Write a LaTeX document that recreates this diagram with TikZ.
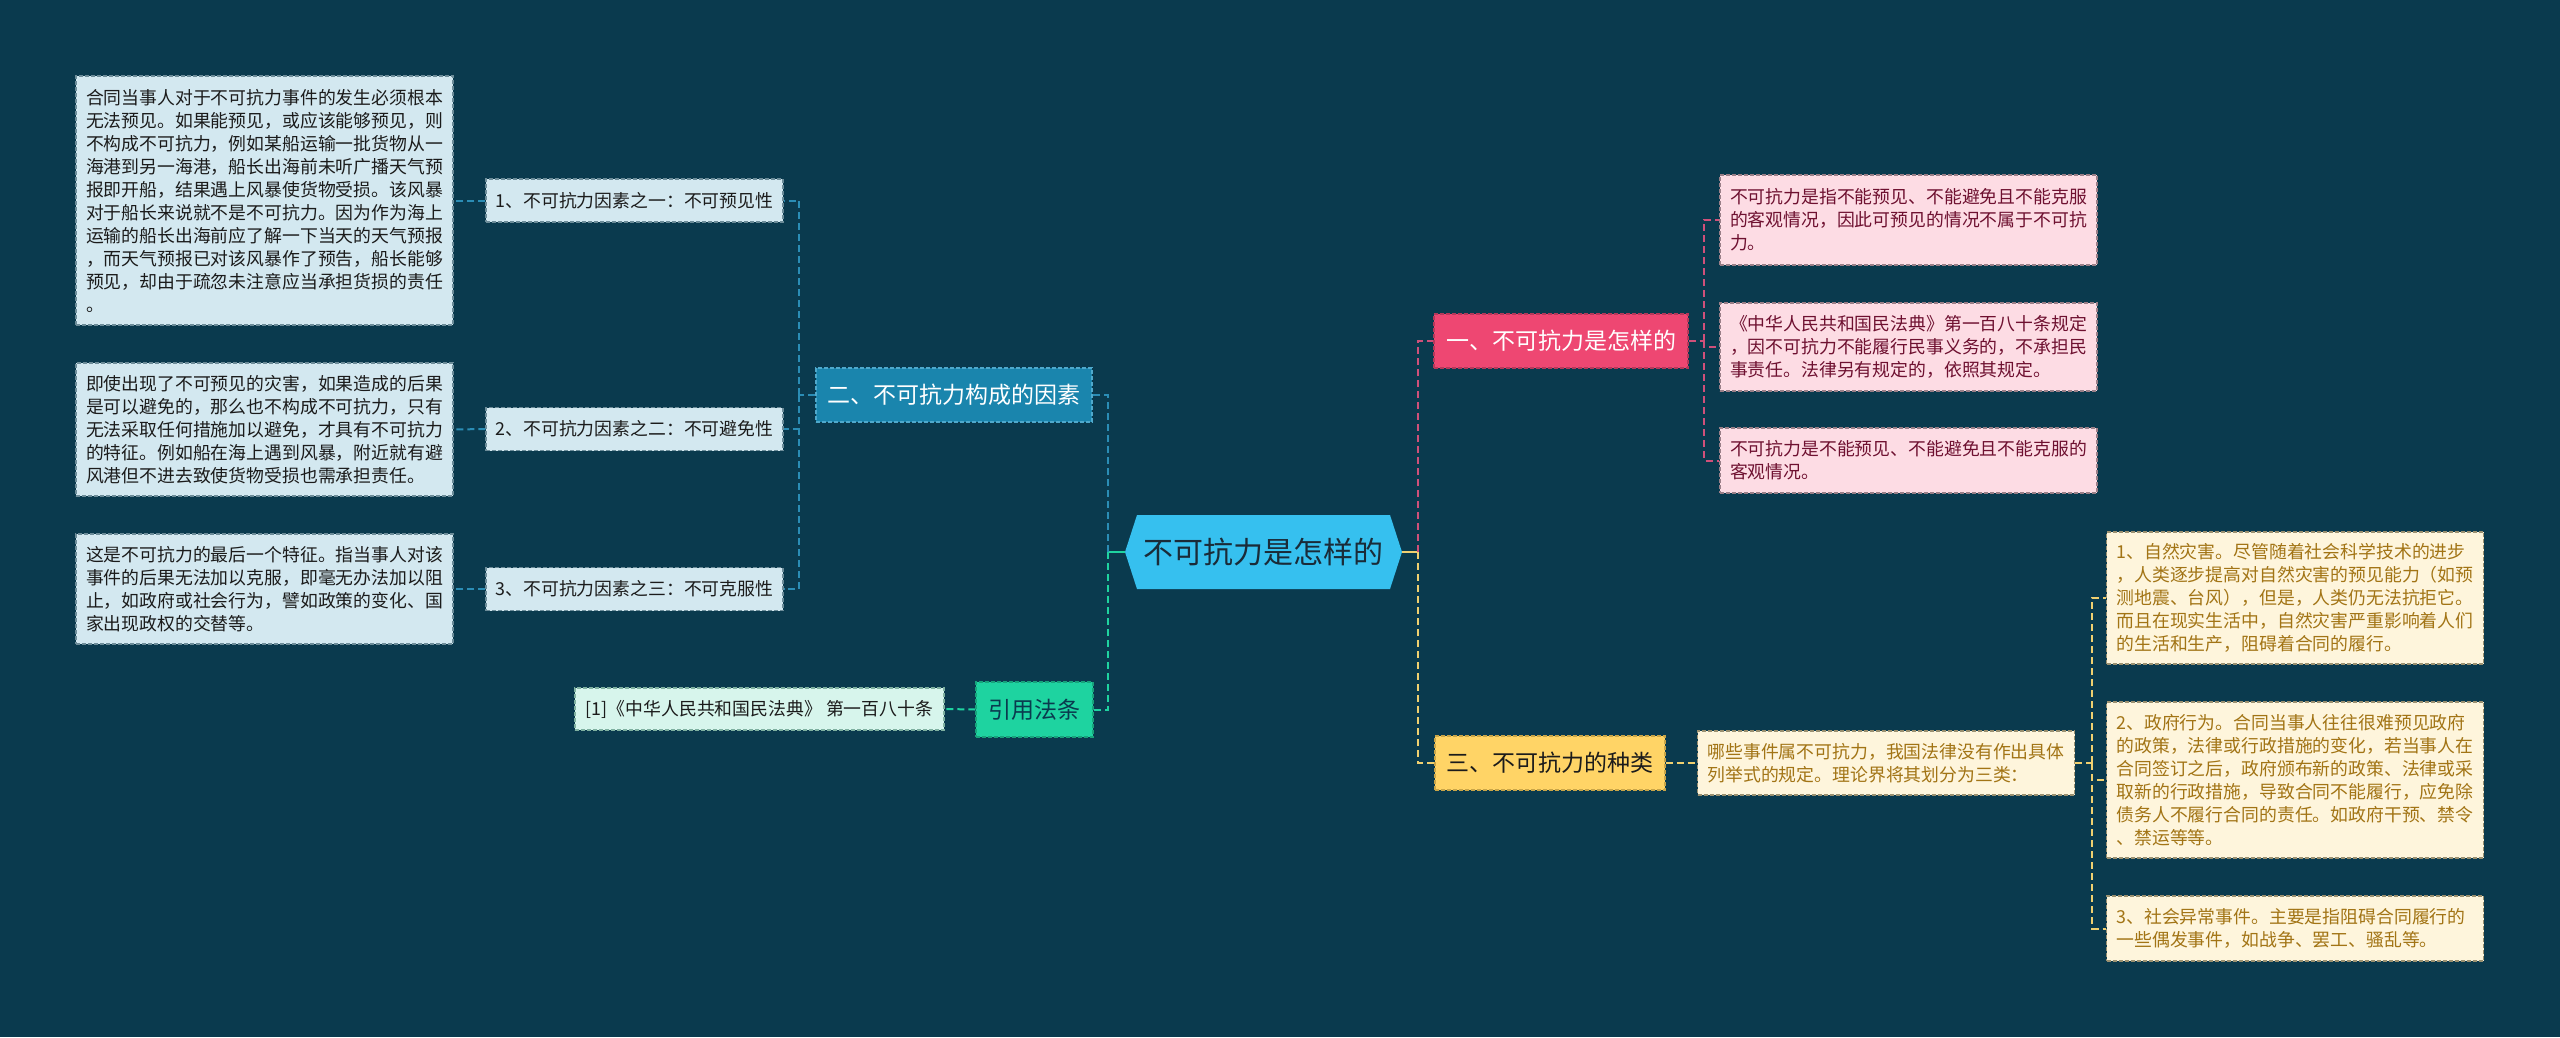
\documentclass[tikz,border=0pt]{standalone}
\usepackage{fontspec}
\setmainfont{Noto Sans CJK SC}
\definecolor{bg}{HTML}{0A3A4E}
\definecolor{rootfill}{HTML}{36C0EF}
\definecolor{roottxt}{HTML}{1A2B38}
\definecolor{bluefill}{HTML}{1A85AD}
\definecolor{blueborder}{HTML}{4FA9CC}
\definecolor{greenfill}{HTML}{1ED3A0}
\definecolor{greenborder}{HTML}{17A37B}
\definecolor{pinkfill}{HTML}{EE4772}
\definecolor{pinkborder}{HTML}{B5385A}
\definecolor{yellowfill}{HTML}{FFD466}
\definecolor{yellowborder}{HTML}{C9A548}
\definecolor{leafB}{HTML}{D3E8F0}
\definecolor{leafBd}{HTML}{6C8C99}
\definecolor{leafG}{HTML}{D7F5EC}
\definecolor{leafGd}{HTML}{7FB0A0}
\definecolor{leafP}{HTML}{FDDCE4}
\definecolor{leafPd}{HTML}{9A7F88}
\definecolor{leafY}{HTML}{FEF5DC}
\definecolor{leafYd}{HTML}{9A9070}
\definecolor{txtdark}{HTML}{1B1B1B}
\definecolor{txtpink}{HTML}{6E1030}
\definecolor{txtyellow}{HTML}{A27415}
\definecolor{conB}{HTML}{2B8DB5}
\definecolor{conG}{HTML}{1FD3A0}
\definecolor{conP}{HTML}{D0507A}
\definecolor{conY}{HTML}{F0D070}
\tikzset{
  dashedborder/.style={dash pattern=on 4pt off 2pt, line width=1.2pt},
  leafbox/.style={rectangle, dashedborder, text width=357pt, align=left,
    inner xsep=10pt, inner ysep=0pt, minimum width=377pt,
    font=\fontsize{17.85pt}{23pt}\selectfont},
  blueleaf/.style={leafbox, fill=leafB, draw=leafBd, text=txtdark},
  pinkleaf/.style={leafbox, fill=leafP, draw=leafPd, text=txtpink},
  yellowleaf/.style={leafbox, fill=leafY, draw=leafYd, text=txtyellow},
  fbox/.style={rectangle, dashedborder, fill=leafB, draw=leafBd, text=txtdark,
    font=\fontsize{17.85pt}{22pt}\selectfont, minimum width=297pt,
    minimum height=43pt, inner sep=0pt},
  citebox/.style={rectangle, dashedborder, fill=leafG, draw=leafGd, text=txtdark,
    font=\fontsize{17.85pt}{22pt}\selectfont, minimum width=369pt,
    minimum height=42pt, inner sep=0pt},
  mainbox/.style={rectangle, dashedborder, font=\fontsize{23pt}{28pt}\selectfont,
    minimum height=54pt, inner sep=0pt},
  conn/.style={line width=2pt, dash pattern=on 7pt off 4pt},
  stub/.style={line width=2.4pt},
}
\begin{document}
\begin{tikzpicture}[x=1pt,y=-1pt]
\useasboundingbox (0,0) rectangle (2560,1037);
\fill[bg] (0,0) rectangle (2560,1037);

% ---------- root ----------
\node[rectangle, minimum width=277pt, minimum height=74pt, inner sep=0pt,
  text=roottxt, font=\fontsize{30pt}{34pt}\selectfont,
  path picture={\fill[rootfill] (path picture bounding box.west)
     -- ([xshift=12pt]path picture bounding box.north west)
     -- ([xshift=-12pt]path picture bounding box.north east)
     -- (path picture bounding box.east)
     -- ([xshift=-12pt]path picture bounding box.south east)
     -- ([xshift=12pt]path picture bounding box.south west) -- cycle;}]
  (root) at (1263.5,552) {不可抗力是怎样的};

% ---------- left branch ----------
\node[mainbox, fill=bluefill, draw=blueborder, text=white, minimum width=276pt]
  (n2) at (954,395) {二、不可抗力构成的因素};
\node[mainbox, fill=greenfill, draw=greenborder, text=bg, minimum width=117pt, minimum height=55pt]
  (yy) at (1034.5,709.5) {引用法条};
\node[citebox] (cite) at (759.5,709) {[1]《中华人民共和国民法典》 第一百八十条};

\node[fbox] (f1) at (634.5,200.5) {1、不可抗力因素之一：不可预见性};
\node[fbox] (f2) at (634.5,429) {2、不可抗力因素之二：不可避免性};
\node[fbox] (f3) at (634.5,589) {3、不可抗力因素之三：不可克服性};

\node[blueleaf, minimum height=249pt] (la) at (264.5,200.5) {合同当事人对于不可抗力事件的发生必须根本\\无法预见。如果能预见，或应该能够预见，则\\不构成不可抗力，例如某船运输一批货物从一\\海港到另一海港，船长出海前未听广播天气预\\报即开船，结果遇上风暴使货物受损。该风暴\\对于船长来说就不是不可抗力。因为作为海上\\运输的船长出海前应了解一下当天的天气预报\\，而天气预报已对该风暴作了预告，船长能够\\预见，却由于疏忽未注意应当承担货损的责任\\。};
\node[blueleaf, minimum height=133pt] (lb) at (264.5,429.5) {即使出现了不可预见的灾害，如果造成的后果\\是可以避免的，那么也不构成不可抗力，只有\\无法采取任何措施加以避免，才具有不可抗力\\的特征。例如船在海上遇到风暴，附近就有避\\风港但不进去致使货物受损也需承担责任。};
\node[blueleaf, minimum height=110pt] (lc) at (264.5,589) {这是不可抗力的最后一个特征。指当事人对该\\事件的后果无法加以克服，即毫无办法加以阻\\止，如政府或社会行为，譬如政策的变化、国\\家出现政权的交替等。};

% ---------- right branch ----------
\node[mainbox, fill=pinkfill, draw=pinkborder, text=white, minimum width=254pt]
  (n1) at (1561,341) {一、不可抗力是怎样的};
\node[mainbox, fill=yellowfill, draw=yellowborder, text=txtdark, minimum width=230pt]
  (n3) at (1550,763) {三、不可抗力的种类};

\node[pinkleaf, minimum height=90pt] (p1) at (1908.5,220) {不可抗力是指不能预见、不能避免且不能克服\\的客观情况，因此可预见的情况不属于不可抗\\力。};
\node[pinkleaf, minimum height=88pt] (p2) at (1908.5,347) {《中华人民共和国民法典》第一百八十条规定\\，因不可抗力不能履行民事义务的，不承担民\\事责任。法律另有规定的，依照其规定。};
\node[pinkleaf, minimum height=65pt] (p3) at (1908.5,460.5) {不可抗力是不能预见、不能避免且不能克服的\\客观情况。};

\node[yellowleaf, minimum height=64pt] (ym) at (1886,763) {哪些事件属不可抗力，我国法律没有作出具体\\列举式的规定。理论界将其划分为三类：};
\node[yellowleaf, minimum height=132pt] (y1) at (2295,598) {1、自然灾害。尽管随着社会科学技术的进步\\，人类逐步提高对自然灾害的预见能力（如预\\测地震、台风），但是，人类仍无法抗拒它。\\而且在现实生活中，自然灾害严重影响着人们\\的生活和生产，阻碍着合同的履行。};
\node[yellowleaf, minimum height=156pt] (y2) at (2295,780) {2、政府行为。合同当事人往往很难预见政府\\的政策，法律或行政措施的变化，若当事人在\\合同签订之后，政府颁布新的政策、法律或采\\取新的行政措施，导致合同不能履行，应免除\\债务人不履行合同的责任。如政府干预、禁令\\、禁运等等。};
\node[yellowleaf, minimum height=65pt] (y3) at (2295,928.5) {3、社会异常事件。主要是指阻碍合同履行的\\一些偶发事件，如战争、罢工、骚乱等。};

% ---------- connectors ----------
\coordinate (busL) at (1108,552);
\coordinate (busF) at (799,395);
\coordinate (busR) at (1418,552);
\coordinate (busP) at (1704,341);
\coordinate (busY) at (2092,763);

\draw[stub, conG] (root.west) -- (busL);
\draw[conn, conB] (busL) |- (n2.east);
\draw[conn, conG] (busL) |- (yy.east);
\draw[conn, conG] (yy.west) -- (cite.east);

\draw[conn, conB] (n2.west) -- (busF);
\draw[conn, conB] (busF) |- (f1.east);
\draw[conn, conB] (busF) |- (f2.east);
\draw[conn, conB] (busF) |- (f3.east);
\draw[conn, conB] (f1.west) -- (la.east);
\draw[conn, conB] (f2.west) -- (lb.east);
\draw[conn, conB] (f3.west) -- (lc.east);

\draw[stub, conY] (root.east) -- (busR);
\draw[conn, conP] (busR) |- (n1.west);
\draw[conn, conY] (busR) |- (n3.west);

\draw[conn, conP] (n1.east) -- (busP);
\draw[conn, conP] (busP) |- (p1.west);
\draw[conn, conP] (busP) |- (p2.west);
\draw[conn, conP] (busP) |- (p3.west);

\draw[conn, conY] (n3.east) -- (ym.west);
\draw[conn, conY] (ym.east) -- (busY);
\draw[conn, conY] (busY) |- (y1.west);
\draw[conn, conY] (busY) |- (y2.west);
\draw[conn, conY] (busY) |- (y3.west);
\end{tikzpicture}
\end{document}
